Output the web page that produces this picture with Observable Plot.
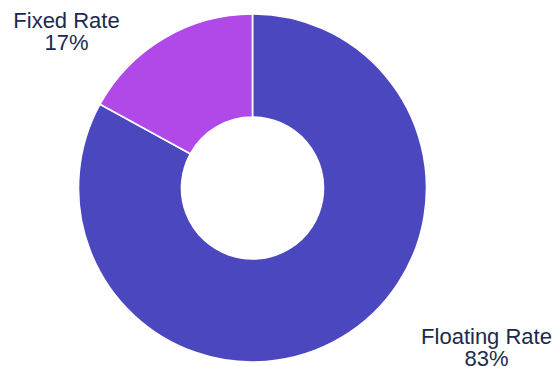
<!DOCTYPE html>
<html>
<head>
<meta charset="utf-8">
<script src="https://cdn.jsdelivr.net/npm/d3@7"></script>
<script src="https://cdn.jsdelivr.net/npm/@observablehq/plot@0.6"></script>
<style>
  html, body { margin: 0; padding: 0; background: #fff; }
  #chart { width: 554px; height: 366px; }
</style>
</head>
<body>
<div id="chart"></div>
<script>
const categories = ["Floating Rate", "Fixed Rate"];
const shares = [83, 17];
const colors = ["#4B47BF", "#B148E8"];
const labelText = ["Floating Rate\n83%", "Fixed Rate\n17%"];

const W = 554, H = 366;
const cx = 252.5, cy = 188, R = 174, r0 = 71;

const data = categories.map((c, i) => ({category: c, value: shares[i], color: colors[i], label: labelText[i]}));
const pie = d3.pie().sort(null).value(d => d.value)(data);

// label anchor positions (top of first text line), in radius units relative to center
const labelPos = [
  {x: (486 - cx) / R, y: -(327.5 - cy) / R},
  {x: (66 - cx) / R, y: -(11.5 - cy) / R}
];
data.forEach((d, i) => { d.lx = labelPos[i].x; d.ly = labelPos[i].y; });

const arcMark = (index, scales, values, dimensions, context) => {
  const g = d3.create("svg:g");
  const x0 = scales.x(0), y0 = scales.y(0);
  const outer = scales.x(1) - scales.x(0);
  const inner = outer * (r0 / R);
  const arc = d3.arc().innerRadius(inner).outerRadius(outer);
  g.selectAll("path")
    .data(pie)
    .join("path")
    .attr("transform", `translate(${x0},${y0})`)
    .attr("d", arc)
    .attr("fill", d => d.data.color)
    .attr("stroke", "#fff")
    .attr("stroke-width", 1.6)
    .attr("stroke-linejoin", "round");
  return g.node();
};

const chart = Plot.plot({
  width: W,
  height: H,
  margin: 0,
  x: {domain: [-cx / R, (W - cx) / R], range: [0, W], axis: null},
  y: {domain: [-(H - cy) / R, cy / R], range: [H, 0], axis: null},
  style: {background: "#fff", overflow: "visible"},
  marks: [
    arcMark,
    Plot.text(data, {
      x: "lx", y: "ly", text: "label",
      fontSize: 22, lineHeight: 1.0,
      fill: "#1C2A4C",
      fontFamily: "Liberation Sans, Arial, sans-serif",
      textAnchor: "middle", lineAnchor: "top"
    })
  ]
});
document.getElementById("chart").append(chart);
</script>
</body>
</html>
